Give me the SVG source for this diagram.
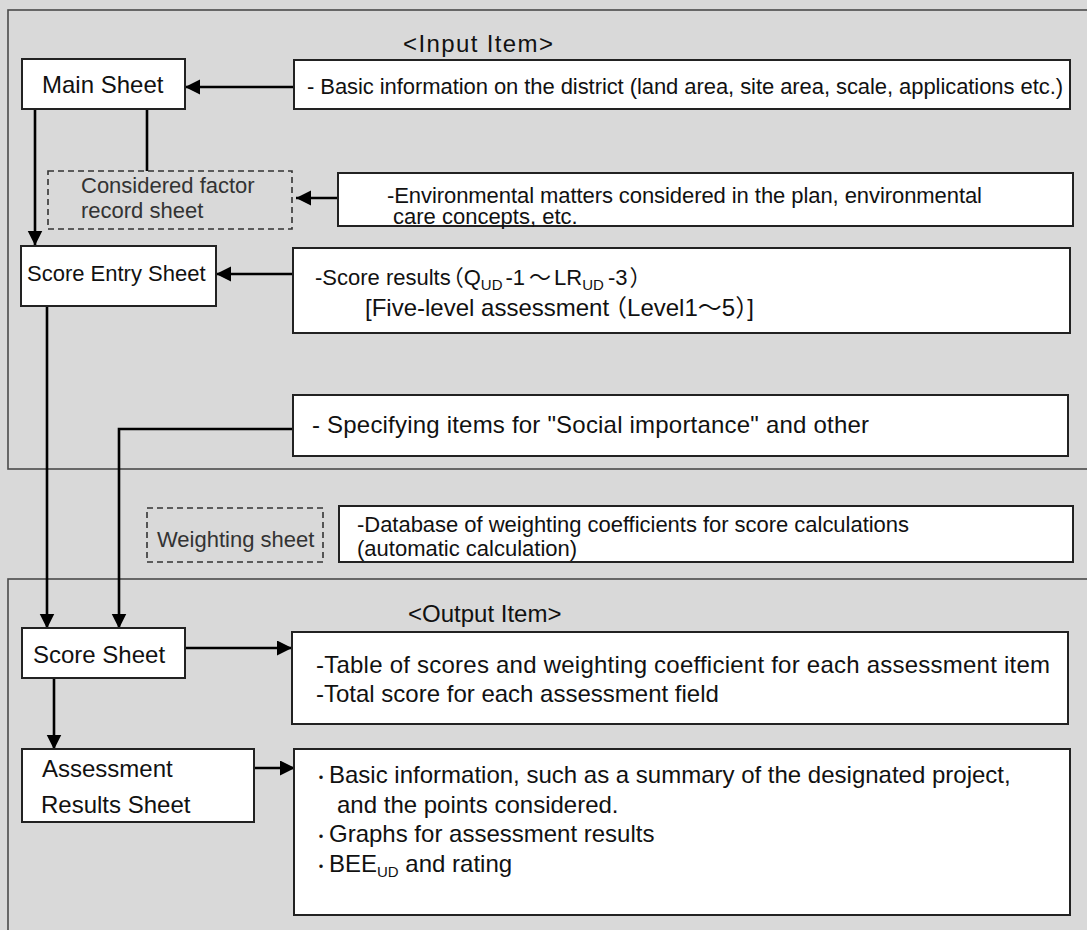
<svg xmlns="http://www.w3.org/2000/svg" width="1087" height="930" viewBox="0 0 1087 930">
  <style>
    text { font-family: "Liberation Sans", Arial, "Noto Sans CJK JP", sans-serif; fill: #111; }
    .f22 { font-size: 22px; }
    .f24 { font-size: 24px; }
    .dim { fill: #333; }
    .sub { font-size: 15px; }
    .dot { font-size: 16px; }
    .panel { fill: none; stroke: #4a4a4a; stroke-width: 1.6; }
    .box { fill: #fff; stroke: #222; stroke-width: 2; }
    .dash { fill: none; stroke: #333; stroke-width: 1.6; stroke-dasharray: 6 4; }
    .link { fill: none; stroke: #000; stroke-width: 2.6; }
  </style>
  <defs>
    <marker id="arrow" markerUnits="userSpaceOnUse" markerWidth="16" markerHeight="16" refX="15" refY="7.5" orient="auto">
      <path d="M0,0 L15,7.5 L0,15 z" fill="#000"/>
    </marker>
  </defs>

  <!-- background -->
  <rect x="0" y="0" width="1087" height="930" fill="#d9d9d9"/>

  <!-- input and output panels -->
  <g id="input-panel">
    <rect class="panel" x="8" y="10" width="1090" height="459"/>
    <text class="f24" x="403" y="52" textLength="150">&lt;Input Item&gt;</text>
  </g>
  <g id="output-panel">
    <rect class="panel" x="8" y="579" width="1090" height="360"/>
    <text class="f24" x="408" y="622">&lt;Output Item&gt;</text>
  </g>

  <!-- connectors -->
  <g id="connectors">
    <line class="link" x1="294" y1="87" x2="185" y2="87" marker-end="url(#arrow)"/>
    <line class="link" x1="35" y1="109" x2="35" y2="245.5" marker-end="url(#arrow)"/>
    <line class="link" x1="147" y1="109" x2="147" y2="171" stroke-width="2"/>
    <line class="link" x1="338" y1="198" x2="296" y2="198" marker-end="url(#arrow)"/>
    <line class="link" x1="293" y1="274" x2="216" y2="274" marker-end="url(#arrow)"/>
    <line class="link" x1="47" y1="306" x2="47" y2="628.5" marker-end="url(#arrow)"/>
    <path class="link" d="M293,429 H119 V628.5" marker-end="url(#arrow)"/>
    <line class="link" x1="185" y1="648" x2="292" y2="648" marker-end="url(#arrow)"/>
    <line class="link" x1="54" y1="678" x2="54" y2="749.5" marker-end="url(#arrow)"/>
    <line class="link" x1="254" y1="768" x2="295" y2="768" marker-end="url(#arrow)"/>
  </g>

  <!-- input side -->
  <g id="main-sheet">
    <rect class="box" x="22" y="59" width="163" height="50"/>
    <text class="f24" x="42" y="93">Main Sheet</text>
  </g>
  <g id="basic-info">
    <rect class="box" x="294" y="60" width="776" height="49"/>
    <text class="f22" x="307" y="94" textLength="756">- Basic information on the district (land area, site area, scale, applications etc.)</text>
  </g>
  <g id="considered-factor-sheet">
    <rect class="dash" x="48" y="171" width="244" height="58"/>
    <text class="f22 dim" x="81" y="193">Considered factor</text>
    <text class="f22 dim" x="81" y="218">record sheet</text>
  </g>
  <g id="environmental-matters">
    <rect class="box" x="338" y="173" width="735" height="53"/>
    <text class="f22" x="387" y="203" textLength="595">-Environmental matters considered in the plan, environmental</text>
    <text class="f22" x="393" y="224">care concepts, etc.</text>
  </g>
  <g id="score-entry-sheet">
    <rect class="box" x="21" y="246" width="195" height="60"/>
    <text class="f22" x="27" y="281">Score Entry Sheet</text>
  </g>
  <g id="score-results">
    <rect class="box" x="293" y="248" width="777" height="85"/>
    <text class="f22" x="315" y="285">-Score results<tspan dx="-9">（</tspan>Q<tspan class="sub" dy="5">UD</tspan><tspan dx="3" dy="-5">-1</tspan><tspan dx="4">～</tspan><tspan dx="3">LR</tspan><tspan class="sub" dy="5">UD</tspan><tspan dx="4" dy="-5">-3</tspan><tspan dx="2">）</tspan></text>
    <text class="f24" x="365" y="316">[Five-level assessment<tspan dx="-6">（</tspan>Level1～5）]</text>
  </g>
  <g id="social-importance">
    <rect class="box" x="293" y="395" width="775" height="61"/>
    <text class="f24" x="312" y="433" textLength="557">- Specifying items for "Social importance" and other</text>
  </g>

  <!-- weighting -->
  <g id="weighting-sheet">
    <rect class="dash" x="147" y="508" width="176" height="54"/>
    <text class="f22 dim" x="157" y="547">Weighting sheet</text>
  </g>
  <g id="weighting-database">
    <rect class="box" x="339" y="506" width="734" height="56"/>
    <text class="f22" x="357" y="532" textLength="552">-Database of weighting coefficients for score calculations</text>
    <text class="f22" x="357" y="556">(automatic calculation)</text>
  </g>

  <!-- output side -->
  <g id="score-sheet">
    <rect class="box" x="22" y="628" width="163" height="50"/>
    <text class="f24" x="33" y="663">Score Sheet</text>
  </g>
  <g id="score-table">
    <rect class="box" x="292" y="632" width="776" height="92"/>
    <text class="f24" x="316" y="673" textLength="734">-Table of scores and weighting coefficient for each assessment item</text>
    <text class="f24" x="316" y="702">-Total score for each assessment field</text>
  </g>
  <g id="assessment-results-sheet">
    <rect class="box" x="22" y="749" width="232" height="73"/>
    <text class="f24" x="42" y="777">Assessment</text>
    <text class="f24" x="41" y="813">Results Sheet</text>
  </g>
  <g id="assessment-results">
    <rect class="box" x="294" y="749" width="776" height="166"/>
    <text class="f24" y="783"><tspan class="dot" x="313">・</tspan><tspan x="329">Basic information, such as a summary of the designated project,</tspan></text>
    <text class="f24" x="337" y="813">and the points considered.</text>
    <text class="f24" y="842"><tspan class="dot" x="313">・</tspan><tspan x="329">Graphs for assessment results</tspan></text>
    <text class="f24" y="872"><tspan class="dot" x="313">・</tspan><tspan x="329">BEE</tspan><tspan class="sub" font-size="16" dy="5">UD</tspan><tspan dy="-5"> and rating</tspan></text>
  </g>
</svg>
